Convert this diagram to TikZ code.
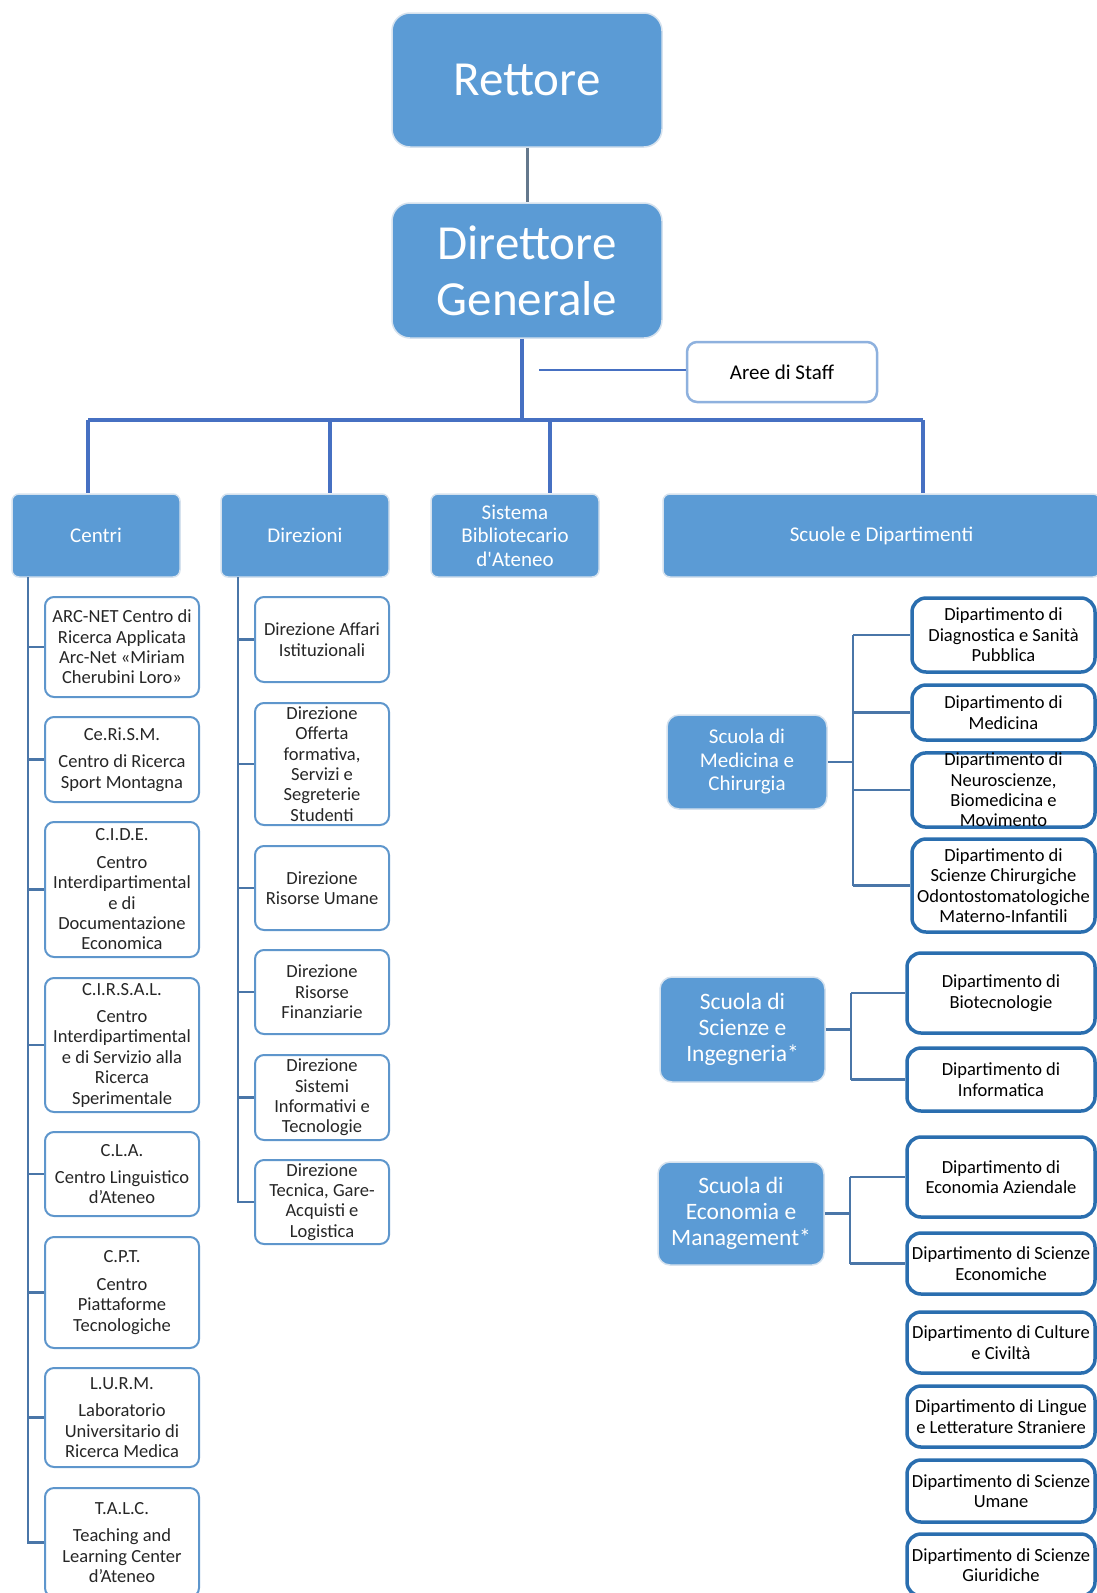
\documentclass[tikz,border=0pt]{standalone}
\usepackage{fontspec}
\setmainfont{Carlito}
\newfontfamily\plainquote{Carlito}
\usepackage{tikz}
\definecolor{boxblue}{HTML}{5B9BD5}
\definecolor{rimblue}{HTML}{D6E2EE}
\definecolor{unitblue}{HTML}{5E96CC}
\definecolor{deptblue}{HTML}{2A6EAF}
\definecolor{linkblue}{HTML}{4A76A8}
\definecolor{busblue}{HTML}{4670C2}
\definecolor{staffblue}{HTML}{8EB1DE}
\definecolor{topgray}{HTML}{64788C}

\begin{document}
\begin{tikzpicture}[x=1pt, y=-1pt,
  bluebox/.style={draw=rimblue, line width=1.5pt, fill=boxblue, text=white, align=center, inner sep=0pt},
  topbox/.style={bluebox, rounded corners=18pt, font=\fontsize{49}{56}\selectfont},
  headbox/.style={bluebox, rounded corners=7pt, minimum height=83pt, font=\fontsize{21}{23.5}\selectfont},
  schoolbox/.style={bluebox, rounded corners=12pt, font=\fontsize{23.5}{26}\selectfont},
  unitbox/.style={draw=unitblue, line width=2pt, fill=white, rounded corners=9pt, align=center, inner sep=0pt, text=black!85, font=\fontsize{18.5}{20.4}\selectfont},
  deptbox/.style={draw=deptblue, line width=3.5pt, fill=white, rounded corners=14pt, align=center, inner sep=0pt, text=black, font=\fontsize{18.5}{20.4}\selectfont},
  link/.style={draw=linkblue, line width=2.6pt},
  busline/.style={draw=busblue, line width=3.6pt},
  ]
  \useasboundingbox (0,0) rectangle (1096,1593);

  \node[topbox, minimum width=270pt, minimum height=134pt] (rett) at (527,80) {Rettore};
  \node[topbox, minimum width=270pt, minimum height=135pt] (dg) at (527,270.5) {Direttore\\Generale};
  \node[draw=staffblue, line width=2.5pt, fill=white, rounded corners=10pt, minimum width=190pt, minimum height=60pt, font=\fontsize{21}{24}\selectfont] (staff) at (782,372) {Aree di Staff};

  \node[headbox, minimum width=168pt] (centri) at (96,535.5) {Centri};
  \node[headbox, minimum width=168pt] (direz) at (305,535.5) {Direzioni};
  \node[headbox, minimum width=168pt] (sba) at (515,535.5) {Sistema\\Bibliotecario\\d{\plainquote '}Ateneo};
  \node[headbox, minimum width=437pt] (scuole) at (881.5,535.5) {Scuole e Dipartimenti};

  \node[unitbox, minimum width=154pt, minimum height=100pt] (c1) at (122,647) {ARC-NET Centro di\\Ricerca Applicata\\Arc-Net «Miriam\\Cherubini Loro»};
  \node[unitbox, minimum width=154pt, minimum height=85pt] (c2) at (122,759.5) {Ce.Ri.S.M.\\[7pt]Centro di Ricerca\\Sport Montagna};
  \node[unitbox, minimum width=154pt, minimum height=135pt] (c3) at (122,889.5) {C.I.D.E.\\[7pt]Centro\\Interdipartimental\\e di\\Documentazione\\Economica};
  \node[unitbox, minimum width=154pt, minimum height=134pt] (c4) at (122,1045) {C.I.R.S.A.L.\\[7pt]Centro\\Interdipartimental\\e di Servizio alla\\Ricerca\\Sperimentale};
  \node[unitbox, minimum width=154pt, minimum height=84pt] (c5) at (122,1174) {C.L.A.\\[7pt]Centro Linguistico\\d’Ateneo};
  \node[unitbox, minimum width=154pt, minimum height=111pt] (c6) at (122,1292.5) {C.P.T.\\[7pt]Centro\\Piattaforme\\Tecnologiche};
  \node[unitbox, minimum width=154pt, minimum height=99pt] (c7) at (122,1417.5) {L.U.R.M.\\[7pt]Laboratorio\\Universitario di\\Ricerca Medica};
  \node[unitbox, minimum width=154pt, minimum height=109pt] (c8) at (122,1542.5) {T.A.L.C.\\[7pt]Teaching and\\Learning Center\\d’Ateneo};

  \node[unitbox, minimum width=134pt, minimum height=85pt] (d1) at (322,639.5) {Direzione Affari\\Istituzionali};
  \node[unitbox, minimum width=134pt, minimum height=122pt] (d2) at (322,764) {Direzione\\Offerta\\formativa,\\Servizi e\\Segreterie\\Studenti};
  \node[unitbox, minimum width=134pt, minimum height=84pt] (d3) at (322,888) {Direzione\\Risorse Umane};
  \node[unitbox, minimum width=134pt, minimum height=84pt] (d4) at (322,992) {Direzione\\Risorse\\Finanziarie};
  \node[unitbox, minimum width=134pt, minimum height=85pt] (d5) at (322,1097.5) {Direzione\\Sistemi\\Informativi e\\Tecnologie};
  \node[unitbox, minimum width=134pt, minimum height=84pt] (d6) at (322,1202) {Direzione\\Tecnica, Gare-\\Acquisti e\\Logistica};

  \node[schoolbox, minimum width=160pt, minimum height=94pt, font=\fontsize{21}{23.5}\selectfont] (smc) at (747,762) {Scuola di\\Medicina e\\Chirurgia};
  \node[schoolbox, minimum width=165pt, minimum height=105pt] (ssi) at (742.5,1029.5) {Scuola di\\Scienze e\\Ingegneria*};
  \node[schoolbox, minimum width=166pt, minimum height=103pt] (sem) at (741,1213.5) {Scuola di\\Economia e\\Management*};

  \node[deptbox, minimum width=183pt, minimum height=74pt] (m1) at (1003.5,635) {Dipartimento di\\Diagnostica e Sanità\\Pubblica};
  \node[deptbox, minimum width=183pt, minimum height=55pt] (m2) at (1003.5,712.5) {Dipartimento di\\Medicina};
  \node[deptbox, minimum width=183pt, minimum height=74pt] (m3) at (1003.5,790) {Dipartimento di\\Neuroscienze,\\Biomedicina e\\Movimento};
  \node[deptbox, minimum width=183pt, minimum height=93pt] (m4) at (1003.5,885.5) {Dipartimento di\\Scienze Chirurgiche\\Odontostomatologiche\\Materno-Infantili};
  \node[deptbox, minimum width=188pt, minimum height=80pt] (i1) at (1001,993) {Dipartimento di\\Biotecnologie};
  \node[deptbox, minimum width=188pt, minimum height=63pt] (i2) at (1001,1079.5) {Dipartimento di\\Informatica};
  \node[deptbox, minimum width=188pt, minimum height=80pt] (e1) at (1001,1177) {Dipartimento di\\Economia Aziendale};
  \node[deptbox, minimum width=188pt, minimum height=61pt] (e2) at (1001,1263.5) {Dipartimento di Scienze\\Economiche};
  \node[deptbox, minimum width=188pt, minimum height=61pt] (o1) at (1001,1342.5) {Dipartimento di Culture\\e Civiltà};
  \node[deptbox, minimum width=188pt, minimum height=61pt] (o2) at (1001,1416.5) {Dipartimento di Lingue\\e Letterature Straniere};
  \node[deptbox, minimum width=188pt, minimum height=62pt] (o3) at (1001,1491) {Dipartimento di Scienze\\Umane};
  \node[deptbox, minimum width=188pt, minimum height=62pt] (o4) at (1001,1565) {Dipartimento di Scienze\\Giuridiche};

  \coordinate (bl) at (88,420);
  \coordinate (bd) at (330,420);
  \coordinate (bs) at (550,420);
  \coordinate (br) at (923,420);
  \coordinate (sl) at (539,370);
  \coordinate (ctrunk) at (28,577);
  \coordinate (dtrunk) at (238,577);
  \coordinate (hm) at (853,0);
  \coordinate (hi) at (851,0);
  \coordinate (he) at (850,0);

  \draw[draw=topgray, line width=3pt] (rett) -- (dg);
  \draw[busline] ([xshift=-5pt]dg.south) -- ([xshift=-5pt]dg.south |- bl);
  \draw[draw=busblue, line width=1.5pt] (sl) -- (sl -| staff.west);
  \draw[busline] (bl) -- (br);
  \draw[busline] (bl) -- (bl |- centri.north);
  \draw[busline] (bd) -- (bd |- direz.north);
  \draw[busline] (bs) -- (bs |- sba.north);
  \draw[busline] (br) -- (br |- scuole.north);

  \draw[link, line join=miter] (ctrunk) |- (c8.west);
  \foreach \n in {c1,c2,c3,c4,c5,c6,c7}
    \draw[link] (ctrunk |- \n.west) -- (\n.west);
  \draw[link, line join=miter] (dtrunk) |- (d6.west);
  \foreach \n in {d1,d2,d3,d4,d5}
    \draw[link] (dtrunk |- \n.west) -- (\n.west);

  \draw[link] (smc.east) -- (smc.east -| hm);
  \draw[link] (hm |- m1.west) -- (hm |- m4.west);
  \foreach \n in {m1,m2,m3,m4}
    \draw[link] (hm |- \n.west) -- (\n.west);
  \draw[link] (ssi.east) -- (ssi.east -| hi);
  \draw[link] (hi |- i1.west) -- (hi |- i2.west);
  \foreach \n in {i1,i2}
    \draw[link] (hi |- \n.west) -- (\n.west);
  \draw[link] (sem.east) -- (sem.east -| he);
  \draw[link] (he |- e1.west) -- (he |- e2.west);
  \foreach \n in {e1,e2}
    \draw[link] (he |- \n.west) -- (\n.west);
\end{tikzpicture}
\end{document}
